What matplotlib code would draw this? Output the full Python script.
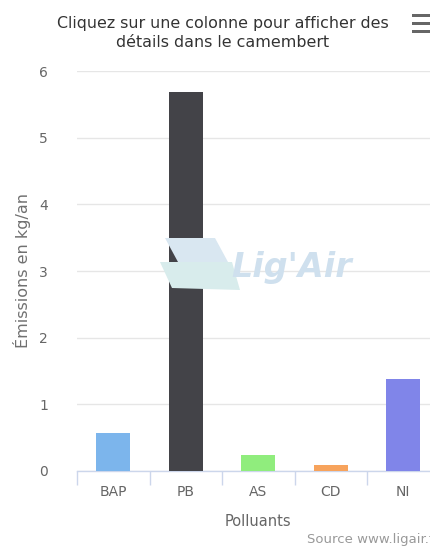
import matplotlib
matplotlib.use("Agg")
import matplotlib.pyplot as plt
from matplotlib.patches import Polygon

# Emission data per pollutant (kg/an)
categories = ["BAP", "PB", "AS", "CD", "NI"]
values = [0.57, 5.69, 0.24, 0.09, 1.38]
colors = ["#7cb5ec", "#434348", "#90ed7d", "#f7a35c", "#8085e9"]
yticks = [0, 1, 2, 3, 4, 5, 6]

title = "Cliquez sur une colonne pour afficher des\ndétails dans le camembert"
ylabel = "Émissions en kg/an"
xlabel = "Polluants"
credit = "Source www.ligair.fr"

plt.rcParams["font.family"] = ["DejaVu Sans"]

W, H = 430, 546
fig = plt.figure(figsize=(W / 100, H / 100), dpi=100)
fig.patch.set_facecolor("white")

# Background watermark logo (drawn first, behind the plot)
fig.text(292 / W, 1 - 268 / H, "Lig'Air", fontsize=24, fontweight="bold",
         style="italic", color="#cfe0ee", ha="center", va="center", zorder=0)
for pts, fc in (
    ([[165, 238], [215, 238], [228, 262], [178, 262]], "#d9e7f1"),
    ([[160, 262], [232, 262], [240, 290], [172, 288]], "#d8ecec"),
):
    fig.patches.append(Polygon([[px / W, 1 - py / H] for px, py in pts],
                               closed=True, transform=fig.transFigure,
                               facecolor=fc, edgecolor="none", zorder=0))

ax = fig.add_axes([77 / W, 1 - 471 / H, 362.5 / W, 400 / H])
ax.set_facecolor("none")

x = list(range(len(categories)))
ax.bar(x, values, width=0.47, color=colors, zorder=3)

ax.set_xlim(-0.5, len(categories) - 0.5)
ax.set_ylim(0, 6)
ax.set_yticks(yticks)
ax.set_yticklabels([str(t) for t in yticks], color="#666666", fontsize=10)
ax.tick_params(axis="y", length=0, pad=21)
ax.yaxis.grid(True, color="#e6e6e6", linewidth=1, zorder=0)
ax.set_axisbelow(True)

ax.set_xticks(x)
ax.set_xticklabels(categories, color="#666666", fontsize=10)
ax.tick_params(axis="x", which="major", length=0, pad=10)
ax.set_xticks([i - 0.5 for i in range(len(categories) + 1)], minor=True)
ax.tick_params(axis="x", which="minor", length=10, color="#ccd6eb", width=1)

for side in ["top", "right", "left"]:
    ax.spines[side].set_visible(False)
ax.spines["bottom"].set_color("#ccd6eb")
ax.spines["bottom"].set_linewidth(1)

ax.set_ylabel(ylabel, color="#707070", fontsize=11.5, labelpad=6)
ax.set_xlabel(xlabel, color="#666666", fontsize=10.5, labelpad=11)

fig.text(223 / W, 1 - 33 / H, title, ha="center", va="center",
         fontsize=11.4, color="#333333", linespacing=1.3)

# Menu button
for dy in (15, 23, 31):
    fig.patches.append(plt.Rectangle((412 / W, 1 - (dy + 1.5) / H), 20 / W, 3 / H,
                                     transform=fig.transFigure,
                                     facecolor="#666666", edgecolor="none"))

fig.text(307 / W, 1 - 540 / H, credit, ha="left", va="center",
         fontsize=9.5, color="#999999")

fig.savefig("out.png", dpi=100, facecolor="white")
